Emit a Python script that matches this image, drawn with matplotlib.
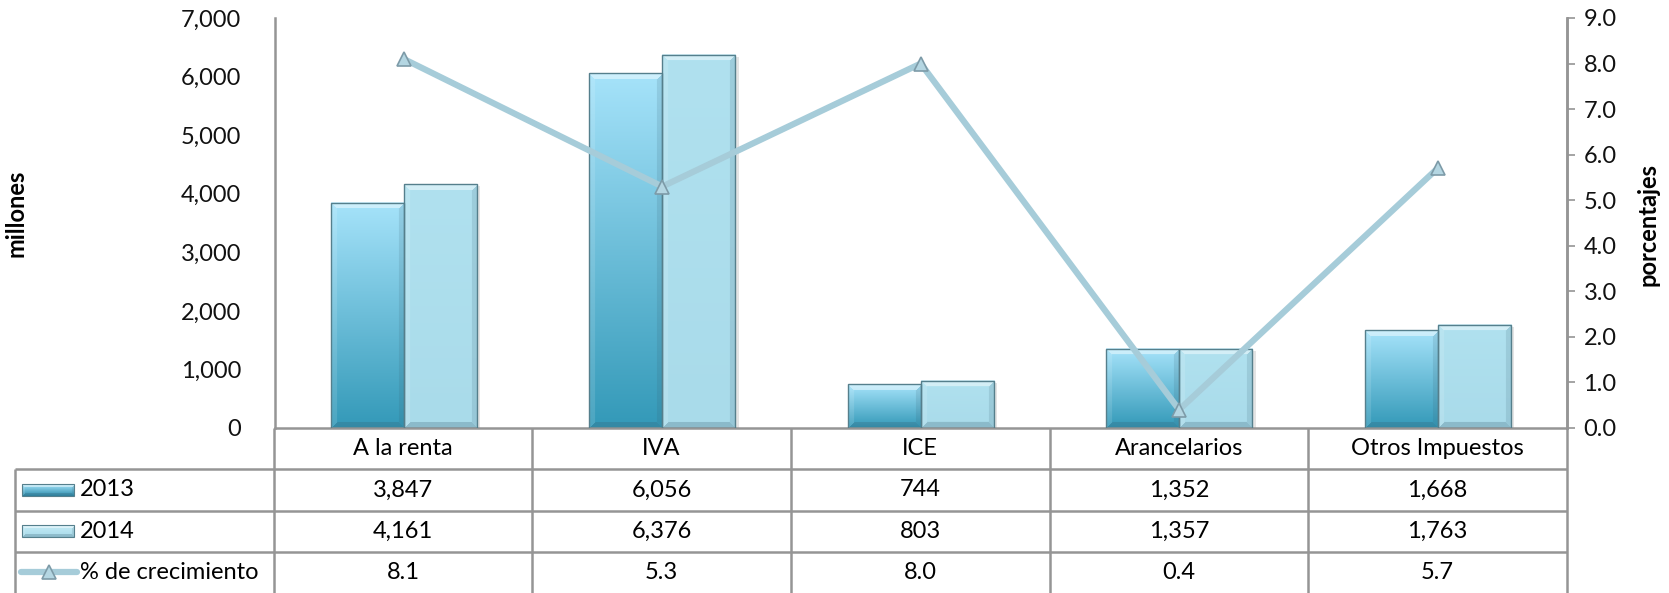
import numpy as np
import matplotlib
matplotlib.use("Agg")
import matplotlib.pyplot as plt
from matplotlib.patches import Rectangle
import matplotlib.patheffects as pe
from matplotlib.colors import to_rgb

plt.rcParams['font.family'] = ['Lato', 'DejaVu Sans']

categories = ["A la renta", "IVA", "ICE", "Arancelarios", "Otros Impuestos"]
values_2013 = [3847, 6056, 744, 1352, 1668]
values_2014 = [4161, 6376, 803, 1357, 1763]
growth = [8.1, 5.3, 8.0, 0.4, 5.7]
series_names = ["2013", "2014", "% de crecimiento"]
left_ticks = [0, 1000, 2000, 3000, 4000, 5000, 6000, 7000]
right_ticks = [0, 1, 2, 3, 4, 5, 6, 7, 8, 9]

W, H, DPI = 1669, 593, 100
fig = plt.figure(figsize=(W / DPI, H / DPI), dpi=DPI)

FS = 17
GRID = '#959595'
LINE_COL = '#a6ccd9'
MK_FACE = '#b4d6e2'
MK_EDGE = '#7d9ba8'
EDGE = '#557f8c'

# main axes
x0p, x1p, y0p, y1p = 274.6, 1566.8, 18.0, 428.0
ax = fig.add_axes([x0p / W, (H - y1p) / H, (x1p - x0p) / W, (y1p - y0p) / H])
ax2 = ax.twinx()

n = len(categories)
x = np.arange(n)
bw = 0.2825


def bevel_image(hpx, wpx, top, bot, bevel):
    hpx = max(int(round(hpx)), 2)
    wpx = max(int(round(wpx)), 2)
    top = np.array(to_rgb(top))
    bot = np.array(to_rgb(bot))
    yy = np.arange(hpx)[:, None] * np.ones((1, wpx))
    xx = np.ones((hpx, 1)) * np.arange(wpx)[None, :]
    frac = yy / (hpx - 1)
    img = top[None, None, :] * (1 - frac[..., None]) + bot[None, None, :] * frac[..., None]
    dt = yy
    db = hpx - 1 - yy
    dl = xx
    dr = wpx - 1 - xx
    b = bevel
    white = np.ones(3)
    dark = np.array([0.2, 0.35, 0.42])
    top_m = (dt < b) & (dt <= dl) & (dt <= dr)
    bot_m = (db < b) & (db < dl) & (db < dr) & ~top_m
    left_m = (dl < b) & ~top_m & ~bot_m & (dl <= dr)
    right_m = (dr < b) & ~top_m & ~bot_m & ~left_m
    img[top_m] = img[top_m] * 0.55 + white * 0.45
    img[left_m] = img[left_m] * 0.88 + white * 0.12
    img[right_m] = img[right_m] * 0.85 + dark * 0.15
    img[bot_m] = img[bot_m] * 0.75 + dark * 0.25
    return np.clip(img, 0, 1)


ax.set_xlim(-0.5, n - 0.5)
ax.set_ylim(0, 7000)
ax2.set_ylim(0, 9)

bars13 = ax.bar(x - bw / 2, values_2013, bw, color='#6cbcd8', edgecolor='none', zorder=2)
bars14 = ax.bar(x + bw / 2, values_2014, bw, color='#afe0ef', edgecolor='none', zorder=2)

px_per_x = (x1p - x0p) / n
px_per_y = (y1p - y0p) / 7000.0

for bars, top, bot in ((bars13, '#a6e3fa', '#3399b8'), (bars14, '#b0e1ef', '#a9dbea')):
    for p in bars:
        bx, bwid, bh = p.get_x(), p.get_width(), p.get_height()
        p.set_path_effects([pe.SimplePatchShadow(offset=(2.5, -1.5), shadow_rgbFace='#888888', alpha=0.22), pe.Normal()])
        img = bevel_image(bh * px_per_y, bwid * px_per_x, top, bot, 6)
        ax.imshow(img, extent=(bx, bx + bwid, 0, bh), aspect='auto', interpolation='bilinear', zorder=2.5)
        ax.add_patch(Rectangle((bx, 0), bwid, bh, fill=False, edgecolor=EDGE, linewidth=1.0, zorder=3))

ax.set_xlim(-0.5, n - 0.5)
ax.set_ylim(0, 7000)

ax2.plot(x, growth, color=LINE_COL, linewidth=4.5, marker='^', markersize=10,
         markerfacecolor=MK_FACE, markeredgecolor=MK_EDGE, markeredgewidth=1.2, zorder=5,
         solid_joinstyle='miter')

ax.set_yticks(left_ticks)
ax.set_yticklabels([f"{v:,}" for v in left_ticks], fontsize=FS, color='#111111')
ax.tick_params(axis='y', length=0, pad=24)
ax.set_xticks([])
ax2.set_yticks(right_ticks)
ax2.set_yticklabels([f"{v:.1f}" for v in right_ticks], fontsize=FS, color='#111111')
ax2.tick_params(axis='y', length=6, width=1.2, color=GRID, pad=6)

for a in (ax, ax2):
    a.spines['top'].set_visible(False)
    for s in ('left', 'right', 'bottom'):
        a.spines[s].set_color(GRID)
        a.spines[s].set_linewidth(1.8)
ax2.spines['bottom'].set_visible(False)
ax2.spines['left'].set_visible(False)

fig.text(16 / W, 1 - 213 / H, "millones", rotation=90, fontsize=FS, fontweight='bold',
         ha='center', va='center')
fig.text(1648 / W, 1 - 224 / H, "porcentajes", rotation=90, fontsize=FS, fontweight='bold',
         ha='center', va='center')

# data table
tx0, tx1, ty0, ty1 = 15.0, 1566.8, 428.0, 593.0
row_px = 41.25
axt = fig.add_axes([tx0 / W, (H - ty1) / H, (tx1 - tx0) / W, (ty1 - ty0) / H])
axt.set_xlim(-1.5, n - 0.5)
axt.set_ylim((ty1 - ty0) / row_px, 0)
axt.axis('off')

lk = dict(color=GRID, linewidth=1.8, clip_on=False, solid_capstyle='butt')
for r in (1, 2, 3):
    axt.plot([-1.5, n - 0.5], [r, r], **lk)
axt.plot([-1.5, -1.5], [1, 4.2], **lk)
for c in range(n + 1):
    axt.plot([c - 0.5, c - 0.5], [0, 4.2], **lk)

for i, c in enumerate(categories):
    axt.text(i, 0.5, c, ha='center', va='center', fontsize=FS)
    axt.text(i, 1.5, f"{values_2013[i]:,}", ha='center', va='center', fontsize=FS)
    axt.text(i, 2.5, f"{values_2014[i]:,}", ha='center', va='center', fontsize=FS)
    axt.text(i, 3.5, f"{growth[i]:.1f}", ha='center', va='center', fontsize=FS)

# legend keys
kx0 = -1.5 + (22 - tx0) / px_per_x
kx1 = -1.5 + (74 - tx0) / px_per_x
kh = 12 / row_px
for r, top, bot in ((1, '#a6e3fa', '#2f8fae'), (2, '#c4ebf6', '#a9dbea')):
    yc = r + 0.5
    img = bevel_image(12, 52, top, bot, 3)
    axt.imshow(img, extent=(kx0, kx1, yc + kh / 2, yc - kh / 2), aspect='auto',
               interpolation='bilinear', zorder=3)
    axt.add_patch(Rectangle((kx0, yc - kh / 2), kx1 - kx0, kh, fill=False,
                            edgecolor=EDGE, linewidth=0.8, zorder=4))
lx0 = -1.5 + (21 - tx0) / px_per_x
lx1 = -1.5 + (77 - tx0) / px_per_x
axt.plot([lx0, lx1], [3.5, 3.5], color=LINE_COL, linewidth=4.5, solid_capstyle='round', zorder=3)
axt.plot([(lx0 + lx1) / 2], [3.5], marker='^', markersize=10, markerfacecolor=MK_FACE,
         markeredgecolor=MK_EDGE, markeredgewidth=1.2, zorder=4)
tlx = -1.5 + (80 - tx0) / px_per_x
for r, name in enumerate(series_names, start=1):
    axt.text(tlx, r + 0.5, name, ha='left', va='center', fontsize=FS)

axt.set_xlim(-1.5, n - 0.5)
axt.set_ylim((ty1 - ty0) / row_px, 0)

fig.savefig("out.png", dpi=DPI)
